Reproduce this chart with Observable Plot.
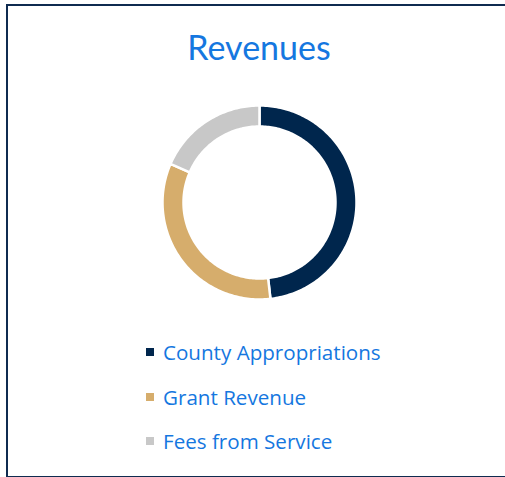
<!DOCTYPE html>
<html>
<head>
<meta charset="utf-8">
<script src="https://cdn.jsdelivr.net/npm/d3@7"></script>
<script src="https://cdn.jsdelivr.net/npm/@observablehq/plot@0.6"></script>
<style>
  html, body { margin: 0; padding: 0; background: #fff; overflow: hidden; }
  body { width: 505px; height: 477px; position: relative; font-family: Lato, "Open Sans", sans-serif; }
  #frame { position: absolute; left: 5.5px; top: 3.5px; width: 560px; height: 474px; border: 2px solid #0F2B50; box-sizing: border-box; }
  #title { position: absolute; left: 0; width: 518px; top: 27px; text-align: center; font-size: 34px; color: #1577E0; line-height: 40px; }
  #chart { position: absolute; left: 139px; top: 81.5px; }
  .leg { position: absolute; left: 146px; height: 24px; display: flex; align-items: center; font-family: "Open Sans", sans-serif; font-size: 20.6px; color: #1577E0; white-space: nowrap; }
  .leg .sw { width: 8px; height: 8px; margin-right: 9px; }
</style>
</head>
<body>
<div id="frame"></div>
<div id="title">Revenues</div>
<div id="chart"></div>
<div id="legend"></div>
<script>
const categories = ["County Appropriations", "Grant Revenue", "Fees from Service"];
const values = [48.2, 33.3, 18.5];
const colors = ["#00264D", "#D6AD6C", "#C8C8C8"];

const data = categories.map((name, i) => ({name, value: values[i]}));
const outerR = 97, innerR = 76;

// slice angles from the data (clockwise from 12 o'clock)
const pie = d3.pie().value(d => d.value).sort(null)(data);
const pts = [];
for (const p of pie) {
  const n = Math.max(8, Math.ceil((p.endAngle - p.startAngle) / 0.02));
  for (let k = 0; k <= n; k++) {
    const a = p.startAngle + (p.endAngle - p.startAngle) * k / n;
    pts.push({name: p.data.name, x: outerR * Math.sin(a), y: outerR * Math.cos(a)});
  }
  for (let k = n; k >= 0; k--) {
    const a = p.startAngle + (p.endAngle - p.startAngle) * k / n;
    pts.push({name: p.data.name, x: innerR * Math.sin(a), y: innerR * Math.cos(a)});
  }
}

const chart = Plot.plot({
  width: 240, height: 240, margin: 0,
  x: {domain: [-120, 120], axis: null},
  y: {domain: [-120, 120], axis: null},
  color: {domain: categories, range: colors},
  marks: [
    Plot.line(pts, {x: "x", y: "y", z: "name", fill: "name", stroke: "white", strokeWidth: 2.5, curve: "linear-closed"})
  ]
});
document.getElementById("chart").appendChild(chart);

const rowsY = [340, 385, 429];
const legend = document.getElementById("legend");
categories.forEach((c, i) => {
  const row = document.createElement("div");
  row.className = "leg";
  row.style.top = rowsY[i] + "px";
  row.innerHTML = `<span class="sw" style="background:${colors[i]}"></span><span>${c}</span>`;
  legend.appendChild(row);
});
</script>
</body>
</html>
